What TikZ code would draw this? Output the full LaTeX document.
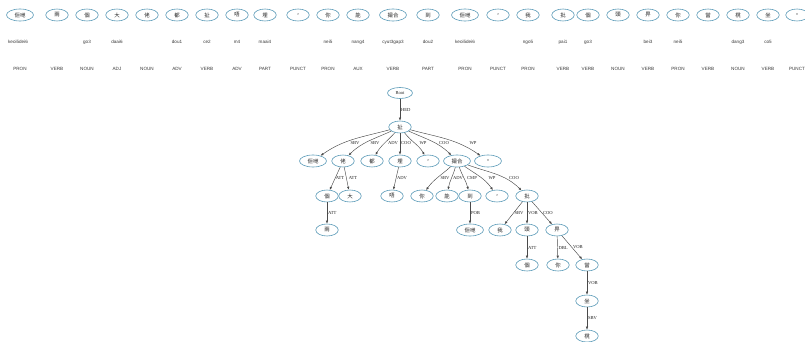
\documentclass[tikz,border=0pt]{standalone}
\usepackage{fontspec}
\setmainfont{Liberation Serif}
\newfontfamily\cjk{Noto Sans CJK TC}
\newfontfamily\tagfont{Liberation Sans}
\usetikzlibrary{arrows.meta,shapes.geometric}
\definecolor{nodeline}{HTML}{5A9AB8}
\definecolor{edgegray}{HTML}{4A4A4A}
\definecolor{tagtext}{HTML}{3A3A3A}

\begin{document}
\begin{tikzpicture}[x=1pt, y=1pt,
  tok/.style={ellipse, draw=nodeline, line width=0.6pt, minimum width=22.5pt,
    minimum height=12pt, inner sep=0pt, text=black!85,
    font=\cjk\fontsize{5.4}{5.4}\selectfont},
  wide/.style={minimum width=27pt},
  jyut/.style={font=\tagfont\fontsize{4.6}{5}\selectfont, text=tagtext, inner sep=0pt},
  postag/.style={jyut},
  dep/.style={draw=edgegray, line width=0.45pt, -{Latex[length=3pt,width=2.4pt]}},
  elab/.style={font=\fontsize{4.6}{5}\selectfont, text=black!85, inner sep=0.8pt}]

  % ---- Canvas ----
  \useasboundingbox[fill=white] (0,0) rectangle (805,-342);

  % ---- Token strip: word, jyutping, POS ----
  \node[tok,wide] (t1) at (20,-15) {佢哋};  \node[jyut] (j1) at (18,-42) {keoi5dei6}; \node[postag] (p1) at (20,-69) {PRON};
  \node[tok] (t2) at (57,-15) {兩};         \node[postag] (p2) at (57,-69) {VERB};
  \node[tok] (t3) at (87,-15) {個};         \node[jyut] (j3) at (87,-42) {go3};       \node[postag] (p3) at (87,-69) {NOUN};
  \node[tok] (t4) at (117,-15) {大};        \node[jyut] (j4) at (117,-42) {daai6};    \node[postag] (p4) at (117,-69) {ADJ};
  \node[tok] (t5) at (147,-15) {佬};        \node[postag] (p5) at (147,-69) {NOUN};
  \node[tok] (t6) at (177,-15) {都};        \node[jyut] (j6) at (177,-42) {dou1};     \node[postag] (p6) at (177,-69) {ADV};
  \node[tok] (t7) at (207,-15) {扯};        \node[jyut] (j7) at (207,-42) {ce2};      \node[postag] (p7) at (207,-69) {VERB};
  \node[tok] (t8) at (237,-15) {唔};        \node[jyut] (j8) at (237,-42) {m4};       \node[postag] (p8) at (237,-69) {ADV};
  \node[tok] (t9) at (265,-15) {埋};        \node[jyut] (j9) at (265,-42) {maai4};    \node[postag] (p9) at (265,-69) {PART};
  \node[tok] (t10) at (298,-15) {，};       \node[postag] (p10) at (298,-69) {PUNCT};
  \node[tok] (t11) at (328,-15) {你};       \node[jyut] (j11) at (328,-42) {nei5};    \node[postag] (p11) at (328,-69) {PRON};
  \node[tok] (t12) at (358,-15) {能};       \node[jyut] (j12) at (358,-42) {nang4};   \node[postag] (p12) at (358,-69) {AUX};
  \node[tok,wide] (t13) at (393,-15) {撮合}; \node[jyut] (j13) at (393,-42) {cyut3gap3}; \node[postag] (p13) at (393,-69) {VERB};
  \node[tok] (t14) at (428,-15) {到};       \node[jyut] (j14) at (428,-42) {dou2};    \node[postag] (p14) at (428,-69) {PART};
  \node[tok,wide] (t15) at (465,-15) {佢哋}; \node[jyut] (j15) at (465,-42) {keoi5dei6}; \node[postag] (p15) at (465,-69) {PRON};
  \node[tok] (t16) at (498,-15) {，};       \node[postag] (p16) at (498,-69) {PUNCT};
  \node[tok] (t17) at (528,-15) {我};       \node[jyut] (j17) at (528,-42) {ngo5};    \node[postag] (p17) at (528,-69) {PRON};
  \node[tok] (t18) at (563,-15) {批};       \node[jyut] (j18) at (563,-42) {pai1};    \node[postag] (p18) at (563,-69) {VERB};
  \node[tok] (t19) at (588,-15) {個};       \node[jyut] (j19) at (588,-42) {go3};     \node[postag] (p19) at (588,-69) {VERB};
  \node[tok] (t20) at (618,-15) {頭};       \node[postag] (p20) at (618,-69) {NOUN};
  \node[tok] (t21) at (648,-15) {畀};       \node[jyut] (j21) at (648,-42) {bei3};    \node[postag] (p21) at (648,-69) {VERB};
  \node[tok] (t22) at (678,-15) {你};       \node[jyut] (j22) at (678,-42) {nei5};    \node[postag] (p22) at (678,-69) {PRON};
  \node[tok] (t23) at (708,-15) {當};       \node[postag] (p23) at (708,-69) {VERB};
  \node[tok] (t24) at (738,-15) {櫈};       \node[jyut] (j24) at (738,-42) {dang3};   \node[postag] (p24) at (738,-69) {NOUN};
  \node[tok] (t25) at (768,-15) {坐};       \node[jyut] (j25) at (768,-42) {co5};     \node[postag] (p25) at (768,-69) {VERB};
  \node[tok] (t26) at (797,-15) {。};       \node[postag] (p26) at (797,-69) {PUNCT};

  % ---- Dependency tree: nodes ----
  \node[tok, minimum width=25pt, minimum height=11pt, font=\rmfamily\fontsize{4.6}{5}\selectfont] (root) at (400,-93) {Root};
  \node[tok] (ce) at (400,-127) {扯};
  % level 2
  \node[tok,wide] (keoiA) at (313,-161) {佢哋};
  \node[tok] (lou) at (343,-161) {佬};
  \node[tok] (dou) at (372,-161) {都};
  \node[tok] (maai) at (400,-161) {埋};
  \node[tok] (commaA) at (428,-161) {，};
  \node[tok,wide] (cyutgap) at (457,-161) {撮合};
  \node[tok,wide] (stop) at (488,-161) {。};
  % level 3
  \node[tok] (goA) at (327,-196) {個};
  \node[tok] (daai) at (350,-196) {大};
  \node[tok] (mm) at (392,-196) {唔};
  \node[tok] (neiA) at (422,-196) {你};
  \node[tok] (nang) at (447,-196) {能};
  \node[tok] (dou2) at (470,-196) {到};
  \node[tok] (commaB) at (497,-196) {，};
  \node[tok] (pai) at (527,-196) {批};
  % level 4
  \node[tok] (loeng) at (327,-230) {兩};
  \node[tok,wide] (keoiB) at (470,-230) {佢哋};
  \node[tok] (ngo) at (500,-230) {我};
  \node[tok] (tau) at (527,-230) {頭};
  \node[tok] (bei) at (557,-230) {畀};
  % level 5 and below
  \node[tok] (goB) at (527,-265) {個};
  \node[tok] (neiB) at (558,-265) {你};
  \node[tok] (dong) at (587,-265) {當};
  \node[tok] (co) at (587,-301) {坐};
  \node[tok] (dang) at (587,-336) {櫈};

  % ---- Dependency tree: arcs ----
  \draw[dep] (root) -- node[elab, anchor=west] {HED} (ce);
  % children of the head verb
  \draw[dep] (ce) to[out=195,in=35] (keoiA) node[elab] at (355,-143) {SBV};
  \draw[dep] (ce) to[out=205,in=45] (lou) node[elab] at (375,-143) {SBV};
  \draw[dep] (ce) to[out=228,in=60] (dou) node[elab] at (393,-143) {ADV};
  \draw[dep] (ce) -- (maai) node[elab] at (406,-143) {COO};
  \draw[dep] (ce) to[out=-52,in=120] (commaA) node[elab] at (423,-143) {WP};
  \draw[dep] (ce) to[out=-25,in=135] (cyutgap) node[elab] at (444,-143) {COO};
  \draw[dep] (ce) to[out=-15,in=145] (stop) node[elab] at (473,-143) {WP};
  % left branch
  \draw[dep] (lou) -- (goA) node[elab] at (340,-178) {ATT};
  \draw[dep] (lou) -- (daai) node[elab] at (353,-178) {ATT};
  \draw[dep] (goA) -- node[elab, anchor=west] {ATT} (loeng);
  \draw[dep] (maai) -- node[elab, anchor=west] {ADV} (mm);
  % second clause
  \draw[dep] (cyutgap) to[out=222,in=55] (neiA) node[elab] at (445,-178) {SBV};
  \draw[dep] (cyutgap) to[out=255,in=80] (nang) node[elab] at (458,-178) {ADV};
  \draw[dep] (cyutgap) to[out=-70,in=105] (dou2) node[elab] at (472,-178) {CMP};
  \draw[dep] (cyutgap) to[out=-35,in=125] (commaB) node[elab] at (492,-178) {WP};
  \draw[dep] (cyutgap) to[out=-20,in=135] (pai) node[elab] at (514,-178) {COO};
  \draw[dep] (dou2) -- node[elab, anchor=west] {POB} (keoiB);
  % third clause
  \draw[dep] (pai) -- node[elab, anchor=west] {SBV} (ngo);
  \draw[dep] (pai) -- node[elab, anchor=west] {VOB} (tau);
  \draw[dep] (pai) -- node[elab, anchor=west] {COO} (bei);
  \draw[dep] (tau) -- node[elab, anchor=west] {ATT} (goB);
  \draw[dep] (bei) -- node[elab, anchor=west] {DBL} (neiB);
  \draw[dep] (bei) -- node[elab, anchor=west] {VOB} (dong);
  \draw[dep] (dong) -- node[elab, anchor=west] {VOB} (co);
  \draw[dep] (co) -- node[elab, anchor=west] {SBV} (dang);

\end{tikzpicture}
\end{document}
